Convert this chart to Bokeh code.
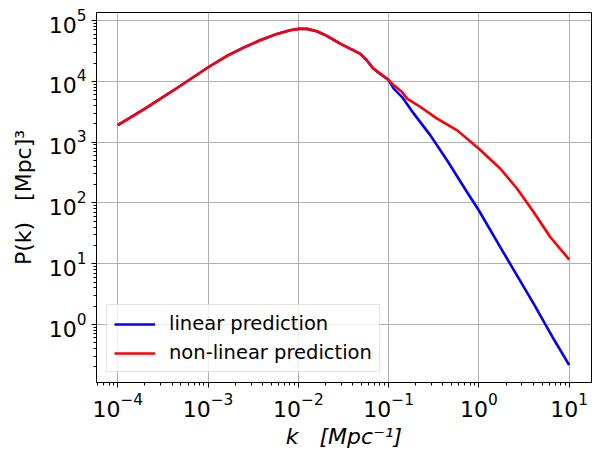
from bokeh.plotting import figure
from bokeh.models import Range1d, FixedTicker, Legend, LegendItem
from bokeh.embed import file_html
from bokeh.resources import INLINE

# ---- data ----
k_shared = [1.0e-4, 1.94e-4, 4.53e-4, 1.014e-3, 1.62e-3, 2.47e-3, 3.78e-3, 5.78e-3,
            8.11e-3, 1.01e-2, 1.24e-2, 1.60e-2, 2.07e-2, 2.90e-2, 3.74e-2, 4.82e-2,
            5.71e-2, 6.78e-2, 8.02e-2, 9.51e-2, 0.1002]
P_shared = [1900, 3450, 7760, 17200, 26200, 35900, 47400, 60300,
            69300, 72900, 72900, 66700, 55800, 41800, 34500, 28600,
            22200, 16200, 13400, 11100, 10400]

k_lin = k_shared + [0.1138, 0.141, 0.190, 0.290, 0.445, 0.740, 1.0, 1.73, 4.05, 6.73, 10.0]
P_lin = P_shared + [7590, 5510, 2940, 1290, 499, 150, 75, 18.6, 2.18, 0.577, 0.215]

k_nl = k_shared + [0.1138, 0.141, 0.160, 0.225, 0.344, 0.574, 1.0, 1.73, 2.65, 4.05, 6.19, 10.0]
P_nl = P_shared + [8590, 6670, 5190, 3780, 2430, 1560, 778, 365, 171, 70.3, 27.2, 11.7]

x_ticks = [1e-4, 1e-3, 1e-2, 1e-1, 1e0, 1e1]
y_ticks = [1e0, 1e1, 1e2, 1e3, 1e4, 1e5]

x_minor = [m * 10.0 ** e for e in range(-5, 2) for m in range(2, 10)]
y_minor = [m * 10.0 ** e for e in range(-1, 6) for m in range(2, 10)]

FONT = "DejaVu Sans"
NB = "\u00a0"

p = figure(width=600, height=462, x_axis_type="log", y_axis_type="log",
           x_range=Range1d(10 ** -4.236, 10 ** 1.247),
           y_range=Range1d(10 ** -0.954, 10 ** 5.132),
           output_backend="svg", toolbar_location=None,
           min_border_left=96, min_border_right=9, min_border_top=12, min_border_bottom=80)

p.background_fill_color = "white"
p.border_fill_color = "white"
p.outline_line_color = "black"
p.outline_line_width = 1
p.outline_line_alpha = 1

p.xaxis[0].ticker = FixedTicker(ticks=x_ticks, minor_ticks=x_minor)
p.yaxis[0].ticker = FixedTicker(ticks=y_ticks, minor_ticks=y_minor)

for ax in (p.xaxis[0], p.yaxis[0]):
    ax.major_label_text_font = FONT
    ax.major_label_text_font_size = "22px"
    ax.major_label_text_color = "black"
    ax.major_tick_in = 0
    ax.major_tick_out = 5
    ax.minor_tick_in = 0
    ax.minor_tick_out = 3
    ax.axis_line_color = "black"
    ax.major_tick_line_color = "black"
    ax.minor_tick_line_color = "black"
    ax.major_label_standoff = 5
    ax.axis_label_text_font = FONT
    ax.axis_label_text_font_size = "22px"
    ax.axis_label_text_color = "black"

p.xaxis[0].axis_label = "k" + NB * 3 + "[Mpc\u207b\u00b9]"
p.xaxis[0].axis_label_text_font_style = "italic"
p.xaxis[0].axis_label_standoff = 4

p.yaxis[0].axis_label = "P(k)" + NB * 3 + "[Mpc]\u00b3"
p.yaxis[0].axis_label_text_font_style = "normal"
p.yaxis[0].axis_label_standoff = 10

p.grid.grid_line_color = "#b0b0b0"
p.grid.grid_line_width = 1

r1 = p.line(k_lin, P_lin, line_color="#0000ff", line_width=2.6)
r2 = p.line(k_nl, P_nl, line_color="#ff0000", line_width=2.6)

legend = Legend(items=[LegendItem(label="linear prediction", renderers=[r1]),
                       LegendItem(label="non-linear prediction", renderers=[r2])],
                location="bottom_left")
legend.label_text_font = FONT
legend.label_text_font_size = "19.5px"
legend.label_text_color = "black"
legend.glyph_width = 41
legend.glyph_height = 22
legend.label_height = 22
legend.label_standoff = 14
legend.padding = 7
legend.spacing = 6
legend.margin = 10
legend.border_line_color = "#cccccc"
legend.border_line_width = 1
legend.background_fill_alpha = 0.8
p.add_layout(legend)

open("out.html", "w").write(file_html(p, INLINE))
